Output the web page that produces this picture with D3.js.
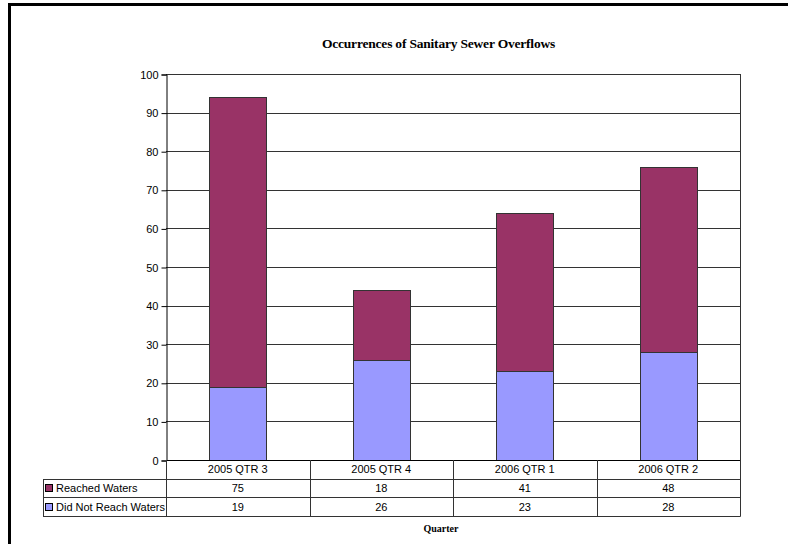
<!DOCTYPE html>
<html><head><meta charset="utf-8">
<script src="https://cdn.jsdelivr.net/npm/d3@7"></script>
<style>body{margin:0;background:#fff}svg{display:block}</style>
</head><body>
<svg id="c" width="788" height="544"></svg>
<script>
const categories = ["2005 QTR 3", "2005 QTR 4", "2006 QTR 1", "2006 QTR 2"];
const reachedWaters = [75, 18, 41, 48];
const didNotReachWaters = [19, 26, 23, 28];
const seriesNames = ["Reached Waters", "Did Not Reach Waters"];
const seriesColors = ["#993366", "#9999FF"];
const yTicks = [0, 10, 20, 30, 40, 50, 60, 70, 80, 90, 100];

const svg = d3.select("#c");
const L = 166, R = 740, T = 74, B = 460;
const legL = 43, rowH = 18.6;

// outer frame
svg.append("rect").attr("x", 9.5).attr("y", 4.5).attr("width", 800).attr("height", 600)
  .attr("fill", "none").attr("stroke", "#000").attr("stroke-width", 3);

const x = d3.scaleBand().domain(categories).range([L, R]).paddingInner(0.6).paddingOuter(0.3);
const xb = d3.scaleBand().domain(categories).range([L, R]);
const y = d3.scaleLinear().domain([0, 100]).range([B, T]);

// gridlines
svg.append("g").selectAll("line").data(yTicks.filter(d => d > 0)).join("line")
  .attr("x1", L).attr("x2", R).attr("y1", d => Math.round(y(d)) + 0.5).attr("y2", d => Math.round(y(d)) + 0.5)
  .attr("stroke", "#333").attr("stroke-width", 1);

// stacked bars
const rows = categories.map((c, i) => ({cat: c, "Did Not Reach Waters": didNotReachWaters[i], "Reached Waters": reachedWaters[i]}));
const stack = d3.stack().keys(["Did Not Reach Waters", "Reached Waters"])(rows);
const colorOf = {"Reached Waters": seriesColors[0], "Did Not Reach Waters": seriesColors[1]};
stack.forEach(s => {
  svg.append("g").selectAll("rect").data(s).join("rect")
    .attr("x", d => Math.round(x(d.data.cat)) + 0.5)
    .attr("width", Math.round(x.bandwidth()))
    .attr("y", d => Math.round(y(d[1])) + 0.5)
    .attr("height", d => Math.round(y(d[0])) - Math.round(y(d[1])))
    .attr("fill", colorOf[s.key]).attr("stroke", "#333").attr("stroke-width", 1);
});

// plot frame right/top
svg.append("line").attr("x1", L).attr("x2", R + 0.5).attr("y1", T + 0.5).attr("y2", T + 0.5).attr("stroke", "#333");
svg.append("line").attr("x1", R + 0.5).attr("x2", R + 0.5).attr("y1", T).attr("y2", B).attr("stroke", "#333");

// y axis
const yAxis = d3.axisLeft(y).tickValues(yTicks).tickSize(5).tickPadding(3);
const ga = svg.append("g").attr("transform", `translate(${L + 0.5},0.5)`).call(yAxis);
ga.select(".domain").attr("stroke", "#000");
ga.selectAll(".tick line").attr("stroke", "#000");
ga.selectAll("text").attr("font-family", "Liberation Sans, Arial, sans-serif").attr("font-size", 11).attr("fill", "#000");

// data table
const rowTop = [B, B + rowH, B + 2 * rowH, B + 3 * rowH];
const tf = "Liberation Sans, Arial, sans-serif";
const tg = svg.append("g");
tg.append("line").attr("x1", L).attr("x2", R + 0.5).attr("y1", B + 0.5).attr("y2", B + 0.5).attr("stroke", "#000");
[1, 2, 3].forEach(k => {
  tg.append("line").attr("x1", legL).attr("x2", R + 0.5)
    .attr("y1", Math.round(rowTop[k]) + 0.5).attr("y2", Math.round(rowTop[k]) + 0.5).attr("stroke", "#333");
});
const vx = categories.map(c => xb(c)).concat([R]);
vx.forEach(v => {
  tg.append("line").attr("x1", Math.round(v) + 0.5).attr("x2", Math.round(v) + 0.5)
    .attr("y1", B).attr("y2", Math.round(rowTop[3]) + 0.5).attr("stroke", "#333");
});
tg.append("line").attr("x1", legL + 0.5).attr("x2", legL + 0.5)
  .attr("y1", Math.round(rowTop[1]) + 0.5).attr("y2", Math.round(rowTop[3]) + 0.5).attr("stroke", "#333");

tg.selectAll("text.h").data(categories).join("text").attr("class", "h")
  .attr("x", d => xb(d) + xb.bandwidth() / 2).attr("y", B + rowH / 2 + 4)
  .attr("text-anchor", "middle").attr("font-family", tf).attr("font-size", 11).text(d => d);
[reachedWaters, didNotReachWaters].forEach((vals, r) => {
  tg.append("g").selectAll("text").data(vals).join("text")
    .attr("x", (d, i) => xb(categories[i]) + xb.bandwidth() / 2)
    .attr("y", rowTop[r + 1] + rowH / 2 + 4)
    .attr("text-anchor", "middle").attr("font-family", tf).attr("font-size", 11).text(d => d);
  tg.append("rect").attr("x", 45.5).attr("y", Math.round(rowTop[r + 1] + rowH / 2 - 3.5) + 0.5)
    .attr("width", 7).attr("height", 7).attr("fill", seriesColors[r]).attr("stroke", "#000");
  tg.append("text").attr("x", 56).attr("y", rowTop[r + 1] + rowH / 2 + 4)
    .attr("font-family", tf).attr("font-size", 11).text(seriesNames[r]);
});

// titles
svg.append("text").attr("x", 438.5).attr("y", 48).attr("text-anchor", "middle")
  .attr("font-family", "Liberation Serif, Times New Roman, serif").attr("font-weight", "bold")
  .attr("font-size", 13.5).attr("letter-spacing", -0.2).text("Occurrences of Sanitary Sewer Overflows");
svg.append("text").attr("x", 441).attr("y", 532).attr("text-anchor", "middle")
  .attr("font-family", "Liberation Serif, Times New Roman, serif").attr("font-weight", "bold")
  .attr("font-size", 10).text("Quarter");
</script>
</body></html>
